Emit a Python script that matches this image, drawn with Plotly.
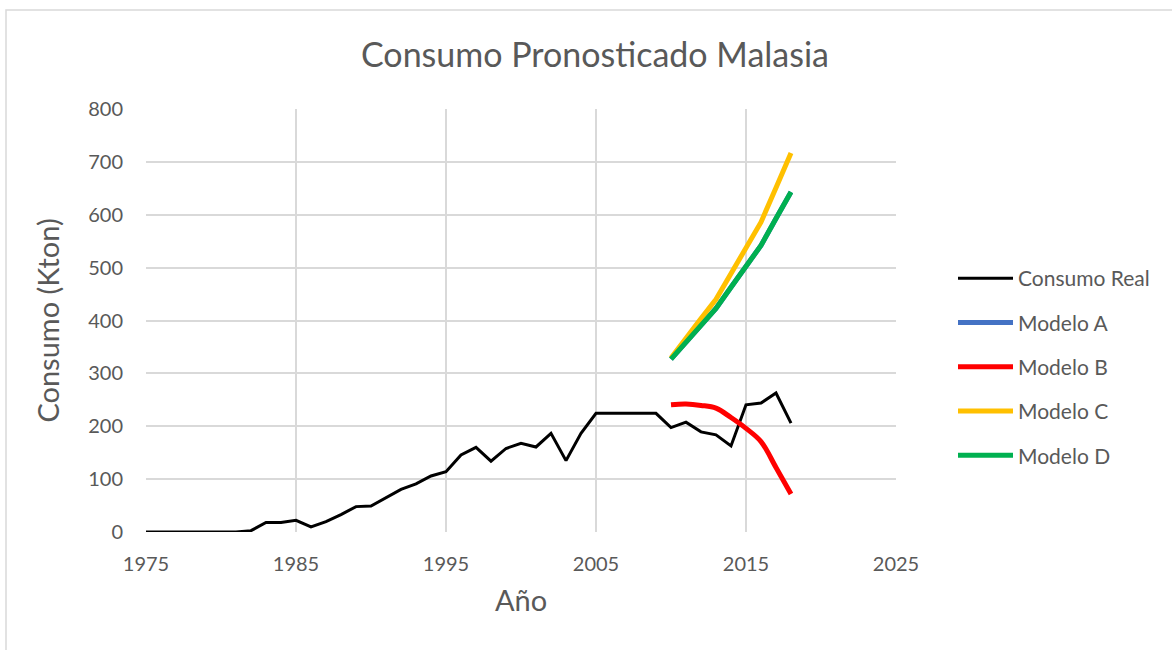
import plotly.graph_objects as go

years_real = list(range(1975, 2019))
consumo_real = [0, 0, 0, 0, 0, 0, 0, 2.5, 18, 18, 22, 9.5, 19.5, 33, 48, 49, 65.6, 80.7, 91, 106,
                114, 145.6, 160, 134, 158, 167.7, 160.8, 186.6, 135, 186.6, 224.4, 224.4, 224.4, 224.4, 224.4,
                197.5, 207.8, 189.4, 183.7, 162.8, 240.6, 243.8, 262.8, 205.9]

years_model = list(range(2010, 2019))
modelo_a = [327, 359, 391, 423, 463, 502, 542, 593, 643]
modelo_b = [240.6, 241.9, 239.4, 234.3, 216.5, 196, 171, 122, 72]
modelo_c = [329, 368, 404, 440, 489, 537, 586, 651, 717]
modelo_d = [327, 359, 391, 423, 463, 502, 542, 593, 643]

TXT = "#595959"
GRID = "#d9d9d9"
FONT = "Lato"

fig = go.Figure()
series = [
    ("Consumo Real", years_real, consumo_real, "#000000", 3, "linear"),
    ("Modelo A", years_model, modelo_a, "#4472C4", 5, "linear"),
    ("Modelo B", years_model, modelo_b, "#FF0000", 5, "spline"),
    ("Modelo C", years_model, modelo_c, "#FFC000", 5, "linear"),
    ("Modelo D", years_model, modelo_d, "#00B050", 5, "linear"),
]
for name, xs, ys, col, w, shp in series:
    fig.add_trace(go.Scatter(x=xs, y=ys, name=name, mode="lines", legendgroup=name,
                             line=dict(color=col, width=w, shape=shp)))

L, R, T, B = 146, 276, 109, 118
pw, ph = 1172 - L - R, 650 - T - B

fig.update_layout(
    width=1172, height=650,
    margin=dict(l=L, r=R, t=T, b=B),
    paper_bgcolor="white", plot_bgcolor="white",
    font=dict(family=FONT, color=TXT, size=20),
    title=dict(text="Consumo Pronosticado Malasia", font=dict(size=34, color=TXT, family=FONT),
               x=(595 - L) / pw, xref="paper", xanchor="center",
               y=1 - 55 / 650, yref="container", yanchor="middle"),
    xaxis=dict(range=[1975, 2025], dtick=10, tick0=1975, showgrid=True, gridcolor=GRID, gridwidth=1.5,
               zeroline=False, showline=False, ticks="", tickfont=dict(size=20, color=TXT),
               ticklabelstandoff=18,
               title=dict(text="Año", font=dict(size=29, color=TXT), standoff=16)),
    yaxis=dict(range=[0, 800], dtick=100, showgrid=True, gridcolor=GRID, gridwidth=1.5,
               zeroline=False, showline=False, ticks="", tickfont=dict(size=20, color=TXT),
               ticklabelstandoff=22,
               title=dict(text="Consumo (Kton)", font=dict(size=29, color=TXT), standoff=20)),
    legend=dict(x=(953 - L) / pw, xanchor="left", y=(532 - 258) / ph, yanchor="top",
                font=dict(size=21, color=TXT), itemwidth=55, tracegroupgap=14,
                traceorder="grouped", bgcolor="rgba(0,0,0,0)"),
    showlegend=True,
)

fig.add_shape(type="rect", xref="paper", yref="paper",
              x0=(6 - L) / pw, x1=(1200 - L) / pw, y0=(532 - 700) / ph, y1=(532 - 10) / ph,
              line=dict(color=GRID, width=1.5), fillcolor="rgba(0,0,0,0)", layer="below")

fig.write_html("out.html", config={"displayModeBar": False},
               post_script="document.body.style.margin='0px';")
